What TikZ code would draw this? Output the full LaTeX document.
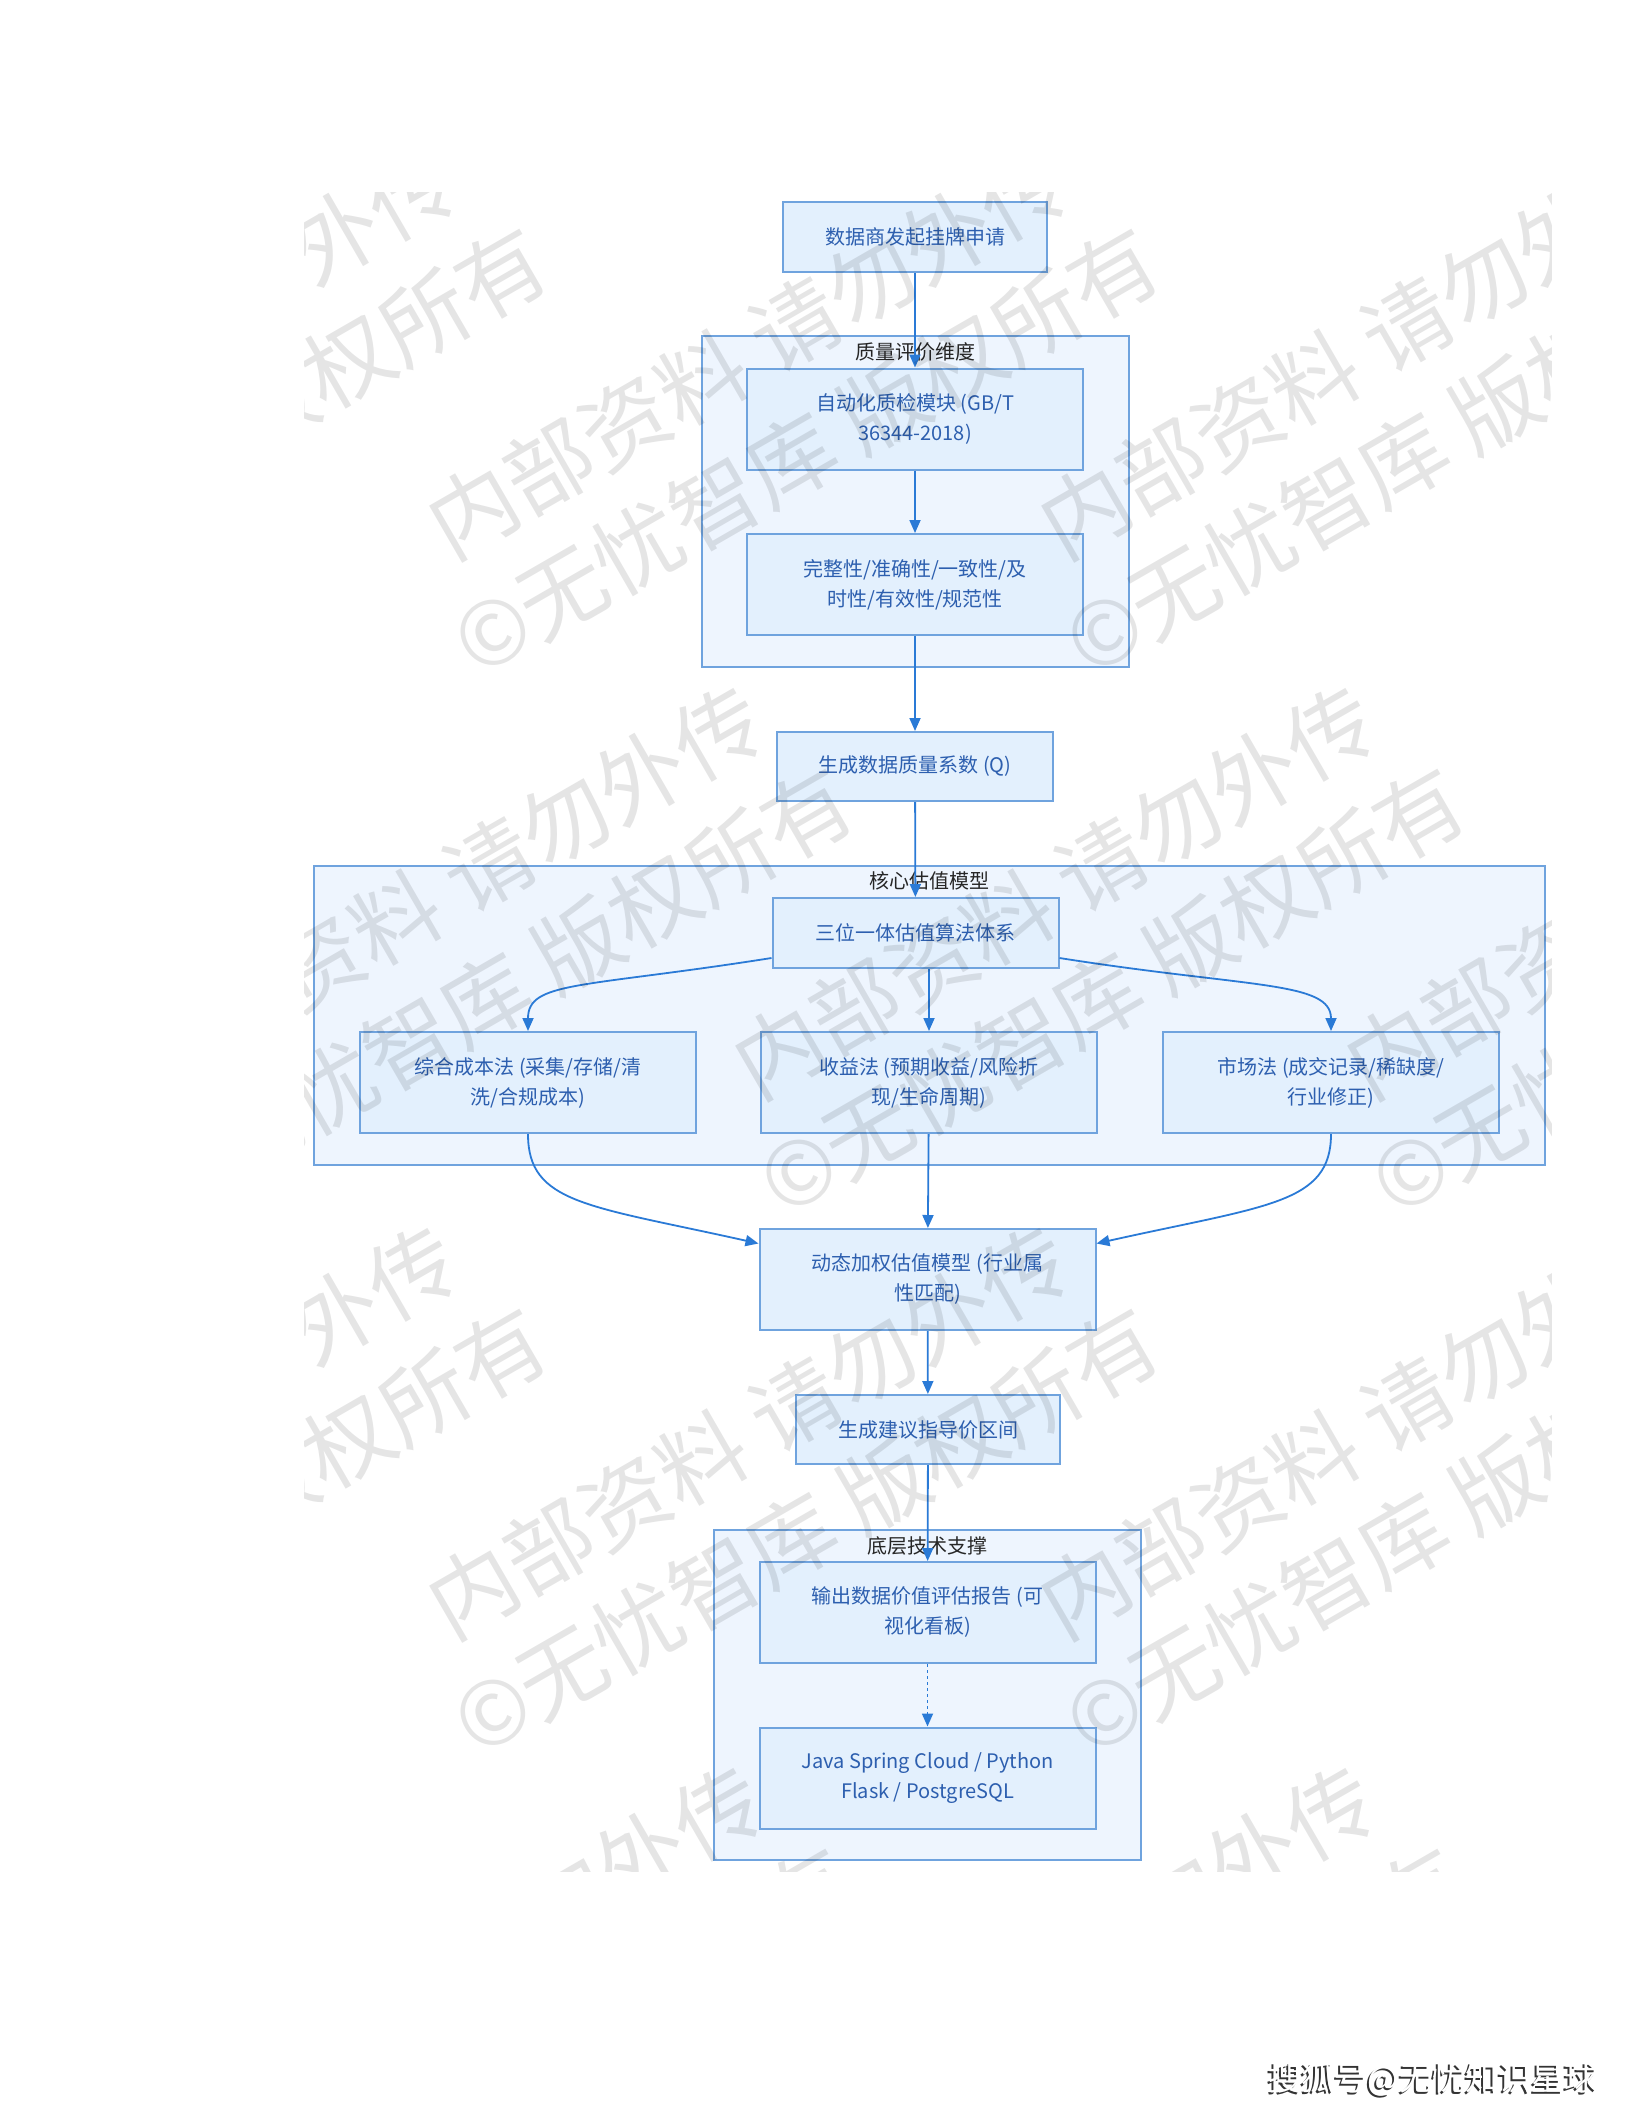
\documentclass[tikz,border=0pt]{standalone}
\usepackage{fontspec}
\setmainfont{Noto Sans CJK SC}
\usetikzlibrary{arrows.meta}
\definecolor{boxfill}{HTML}{E3F0FD}
\definecolor{boxline}{HTML}{6FA3DE}
\definecolor{boxtext}{HTML}{2D5FAF}
\definecolor{grpfill}{HTML}{EEF5FE}
\definecolor{flowline}{HTML}{2A7AD6}
\begin{document}
\begin{tikzpicture}[x=1pt, y=-1pt,
  box/.style={draw=boxline, fill=boxfill, line width=2pt, text=boxtext, align=center,
    font=\fontsize{20}{30}\selectfont, minimum width=336pt, minimum height=101pt, inner sep=0pt},
  grp/.style={draw=boxline, fill=grpfill, line width=2pt, inner sep=0pt},
  grptitle/.style={text=black!85, font=\fontsize{20}{24}\selectfont},
  flow/.style={draw=flowline, line width=1.8pt, -{Triangle[length=13pt,width=11pt]}},
  wm/.style={rotate=30, text=black, text opacity=0.1, align=center, font=\fontsize{88}{115}\selectfont}]
  \useasboundingbox (0,0) rectangle (1632,2112);
  % subgraphs
  \node[grp, minimum width=427pt, minimum height=331pt] (S1) at (915.5,501.5) {};
  \node[grp, minimum width=1231pt, minimum height=299pt] (S2) at (929.5,1015.5) {};
  \node[grp, minimum width=427pt, minimum height=330pt] (S3) at (927.5,1695) {};
  \node[grptitle] (S1t) at (915.5,352) {质量评价维度};
  \node[grptitle] (S2t) at (929.5,881) {核心估值模型};
  \node[grptitle] (S3t) at (927.5,1546) {底层技术支撑};
  % steps
  \node[box, minimum width=264pt, minimum height=70pt] (A) at (915,237) {数据商发起挂牌申请};
  \node[box] (B) at (915,419) {自动化质检模块 (GB/T\\36344-2018)};
  \node[box] (C) at (915,584.5) {完整性/准确性/一致性/及\\时性/有效性/规范性};
  \node[box, minimum width=276pt, minimum height=69pt] (D) at (915,766.5) {生成数据质量系数 (Q)};
  \node[box, minimum width=286pt, minimum height=70pt] (E) at (915.5,933) {三位一体估值算法体系};
  \node[box] (F1) at (528,1082.5) {综合成本法 (采集/存储/清\\洗/合规成本)};
  \node[box] (F2) at (929,1082.5) {收益法 (预期收益/风险折\\现/生命周期)};
  \node[box] (F3) at (1331,1082.5) {市场法 (成交记录/稀缺度/\\行业修正)};
  \node[box] (G) at (927.5,1279.5) {动态加权估值模型 (行业属\\性匹配)};
  \node[box, minimum width=264pt, minimum height=69pt] (H) at (928,1429.5) {生成建议指导价区间};
  \node[box] (I) at (927.5,1612.5) {输出数据价值评估报告 (可\\视化看板)};
  \node[box] (J) at (927.5,1778) {Java Spring Cloud / Python\\Flask / PostgreSQL};
  % flow
  \draw[flow] (A) -- (B);
  \draw[flow] (B) -- (C);
  \draw[flow] (C) -- (D);
  \draw[flow] (D) -- (E);
  \draw[flow] ([yshift=-25pt]E.west) .. controls +(-190,30) and +(0,-50) .. (F1.north);
  \draw[flow] (F2.north |- E.south) -- (F2);
  \draw[flow] ([yshift=-25pt]E.east) .. controls +(190,30) and +(0,-50) .. (F3.north);
  \draw[flow] (F1.south) .. controls +(0,70) and +(-170,-38) .. ([yshift=36pt]G.west);
  \draw[flow] (F2) -- (G);
  \draw[flow] (F3.south) .. controls +(0,70) and +(170,-38) .. ([yshift=36pt]G.east);
  \draw[flow] (G) -- (H);
  \draw[flow] (H) -- (I);
  \draw[flow, dash pattern=on 3pt off 3pt] (I) -- (J);
  % watermark
  \begin{scope}
    \clip (304,192) rectangle (1551,1871);
    \foreach \wx/\wy [count=\k] in {165/401, 777/401, 1389/401,
        471/941, 1083/941, 1695/941,
        165/1481, 777/1481, 1389/1481,
        471/2021, 1083/2021, 1695/2021}
      \node[wm] (wm\k) at (\wx,\wy) {内部资料 请勿外传\\©无忧智库 版权所有};
  \end{scope}
  \node[font=\fontsize{33}{33}\selectfont, text=black!80] (sigshadow) at (1431,2081) {搜狐号@无忧知识星球};
  \node[font=\fontsize{33}{33}\selectfont, text=white] (sig) at (1433,2079) {搜狐号@无忧知识星球};
\end{tikzpicture}
\end{document}
